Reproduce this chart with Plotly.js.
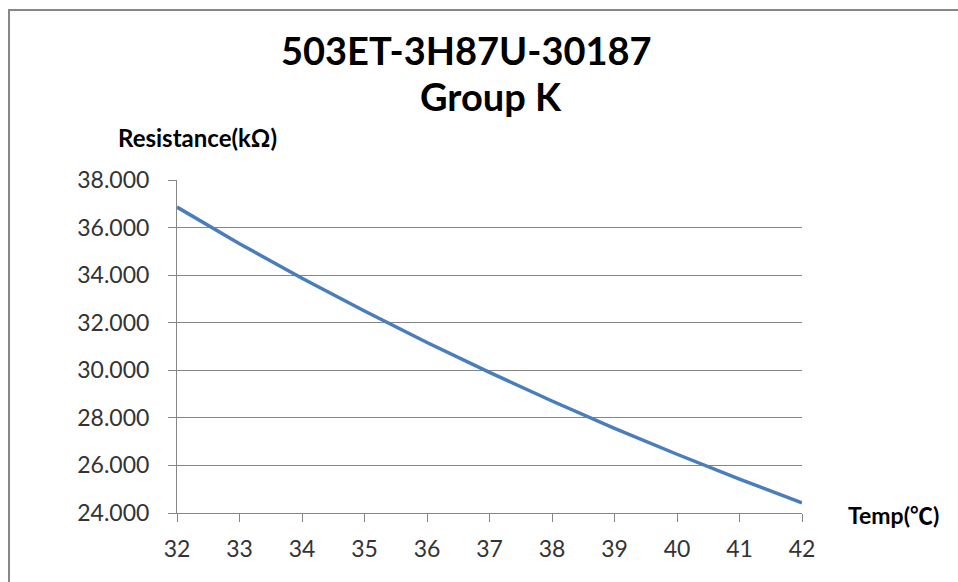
<!DOCTYPE html>
<html>
<head>
<meta charset="utf-8">
<script src="https://cdn.plot.ly/plotly-3.0.1.min.js"></script>
<style>
  html, body { margin: 0; padding: 0; background: #ffffff; }
  #frame { position: absolute; left: 8px; top: 9px; width: 1200px; height: 1200px;
           border-left: 2px solid #878787; border-top: 2px solid #878787; }
  #chart { position: absolute; left: 0; top: 0; width: 958px; height: 582px; }
</style>
</head>
<body>
<div id="frame"></div>
<div id="chart"></div>
<script>
const titleLine1 = "503ET-3H87U-30187";
const titleLine2 = "Group K";
const yAxisLabel = "Resistance(kΩ)";
const xAxisLabelParts = ["Temp(", "℃", ")"];
const temps = [32, 33, 34, 35, 36, 37, 38, 39, 40, 41, 42];
const resistance = [36.86, 35.32, 33.87, 32.49, 31.17, 29.91, 28.71, 27.56, 26.47, 25.42, 24.43];
const yTicks = [24, 26, 28, 30, 32, 34, 36, 38];
const yTickLabels = yTicks.map(v => v.toFixed(3));

const FONT = "Lato, 'Open Sans', sans-serif";
const TXT = "#333333";

const trace = {
  x: temps, y: resistance, type: "scatter", mode: "lines",
  line: { color: "#4a7ebb", width: 3.5 }, hoverinfo: "skip"
};

const layout = {
  width: 958, height: 582,
  margin: { l: 177, r: 156, t: 180, b: 69 },
  paper_bgcolor: "rgba(0,0,0,0)", plot_bgcolor: "rgba(0,0,0,0)",
  showlegend: false,
  font: { family: FONT, color: TXT },
  xaxis: {
    range: [32, 42], tickvals: temps, ticktext: temps.map(String),
    showgrid: false, zeroline: false,
    showline: true, linecolor: "#868686", linewidth: 1,
    ticks: "outside", ticklen: 8, tickcolor: "#868686",
    tickfont: { family: FONT, size: 23, color: TXT },
    ticklabelstandoff: 7, fixedrange: true
  },
  yaxis: {
    range: [24, 38], tickvals: yTicks, ticktext: yTickLabels,
    showgrid: true, gridcolor: "#868686", gridwidth: 1, zeroline: false,
    showline: true, linecolor: "#868686", linewidth: 1,
    ticks: "outside", ticklen: 8, tickcolor: "#868686",
    tickfont: { family: FONT, size: 23, color: TXT },
    ticklabelstandoff: 14, fixedrange: true
  },
  annotations: [
    { text: "<b>" + titleLine1 + "</b>", xref: "paper", yref: "paper",
      x: (466 - 177) / 625, y: (513.3 - 50) / 333.3, xanchor: "center", yanchor: "middle",
      showarrow: false, font: { family: FONT, size: 38, color: "#000000" } },
    { text: "<b>" + titleLine2 + "</b>", xref: "paper", yref: "paper",
      x: (491 - 177) / 625, y: (513.3 - 96) / 333.3, xanchor: "center", yanchor: "middle",
      showarrow: false, font: { family: FONT, size: 38, color: "#000000" } },
    { text: "<b>" + yAxisLabel + "</b>", xref: "paper", yref: "paper",
      x: (197 - 177) / 625, y: (513.3 - 137) / 333.3, xanchor: "center", yanchor: "middle",
      showarrow: false, font: { family: FONT, size: 24, color: "#000000" } },
    { text: "<b>" + xAxisLabelParts[0] + "<span style=\"font-family:'Noto Sans CJK SC'\">" +
        xAxisLabelParts[1] + "</span>" + xAxisLabelParts[2] + "</b>", xref: "paper", yref: "paper",
      x: (893 - 177) / 625, y: (513.3 - 514) / 333.3, xanchor: "center", yanchor: "middle",
      showarrow: false, font: { family: FONT, size: 23, color: "#000000" } }
  ]
};

Plotly.newPlot("chart", [trace], layout, { staticPlot: true, displayModeBar: false });
</script>
</body>
</html>
